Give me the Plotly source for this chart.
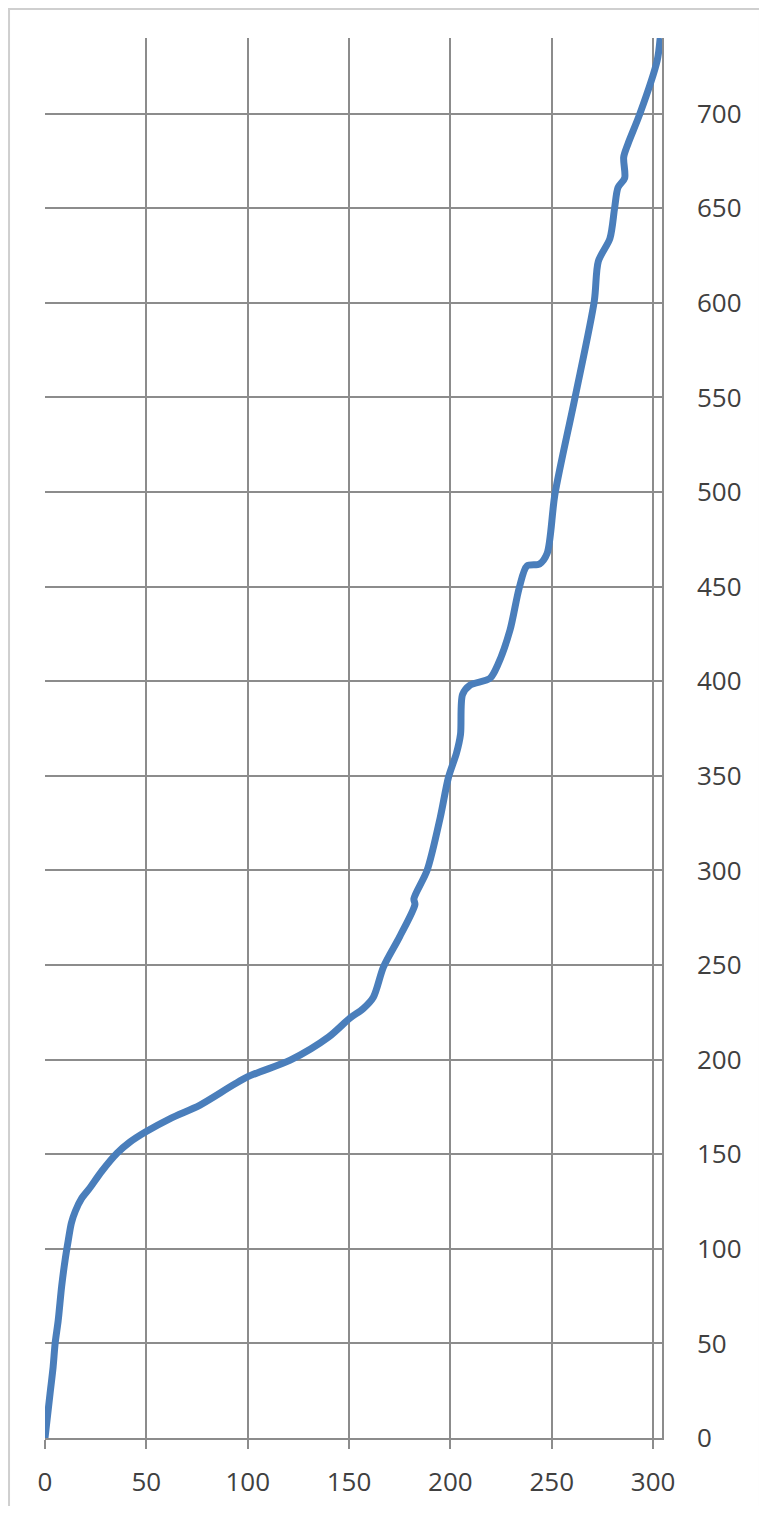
import plotly.graph_objects as go

# Data (x, y along the curve)
x_vals = [0, 2.5, 4, 5, 6.5, 8.2, 9.9, 11.5, 13, 15, 18, 22, 28, 35.5, 42, 49.3,
          62, 76.5, 99.6, 121, 140, 150.5, 157, 162, 167, 175, 182.5, 182, 188.5,
          195, 199, 203, 205, 206, 209.7, 219.5, 223.5, 229.4, 234, 237.8, 244,
          247.7, 251.6, 261.5, 271, 273, 278.7, 281, 282.7, 286, 285.5, 287.6,
          293.5, 302, 303.5]
y_vals = [0, 23.6, 37.5, 50, 62, 80, 94, 104.6, 113.6, 120, 126.5, 132, 141,
          150.5, 156.5, 161.6, 169, 176, 190.7, 199.7, 212, 222, 227, 233, 249,
          265, 282, 285, 300, 328, 349, 362, 372, 393, 398, 401.5, 409, 427, 449.5,
          461, 462, 467.5, 499, 550, 601, 622, 634, 650, 661, 666, 677, 684, 700,
          728, 740]

x_ticks = [0, 50, 100, 150, 200, 250, 300]
y_ticks = [0, 50, 100, 150, 200, 250, 300, 350, 400, 450, 500, 550, 600, 650, 700]

grid_col = "#8c8c8c"
font_col = "#404040"

fig = go.Figure()
fig.add_trace(go.Scatter(
    x=x_vals, y=y_vals, mode="lines",
    line=dict(color="#4a7ebb", width=7, shape="spline", smoothing=0.8),
    showlegend=False, hoverinfo="skip",
))

fig.update_layout(
    width=759, height=1498,
    margin=dict(l=37, r=105, t=30, b=68),
    paper_bgcolor="white", plot_bgcolor="white",
    font=dict(family="Open Sans", size=26, color=font_col),
    xaxis=dict(
        range=[0, 304.4], tickvals=x_ticks, ticktext=[str(v) for v in x_ticks],
        showgrid=True, gridcolor=grid_col, gridwidth=1.5,
        showline=True, linecolor=grid_col, linewidth=1.5,
        ticks="outside", ticklen=9, tickcolor=grid_col, tickwidth=1.5,
        ticklabelstandoff=11, zeroline=False, automargin=False,
    ),
    yaxis=dict(
        range=[0, 740], tickvals=y_ticks, ticktext=[str(v) for v in y_ticks],
        side="right",
        showgrid=True, gridcolor=grid_col, gridwidth=1.5,
        showline=True, linecolor=grid_col, linewidth=1.5,
        ticks="", ticklabelstandoff=28, zeroline=False, automargin=False,
    ),
    shapes=[dict(
        type="rect", xref="paper", yref="paper",
        x0=-0.0583, x1=1.1588, y0=-0.06, y1=1.0207,
        line=dict(color="#cfcfcf", width=2), layer="below",
    )],
)

fig.write_html("out.html")
